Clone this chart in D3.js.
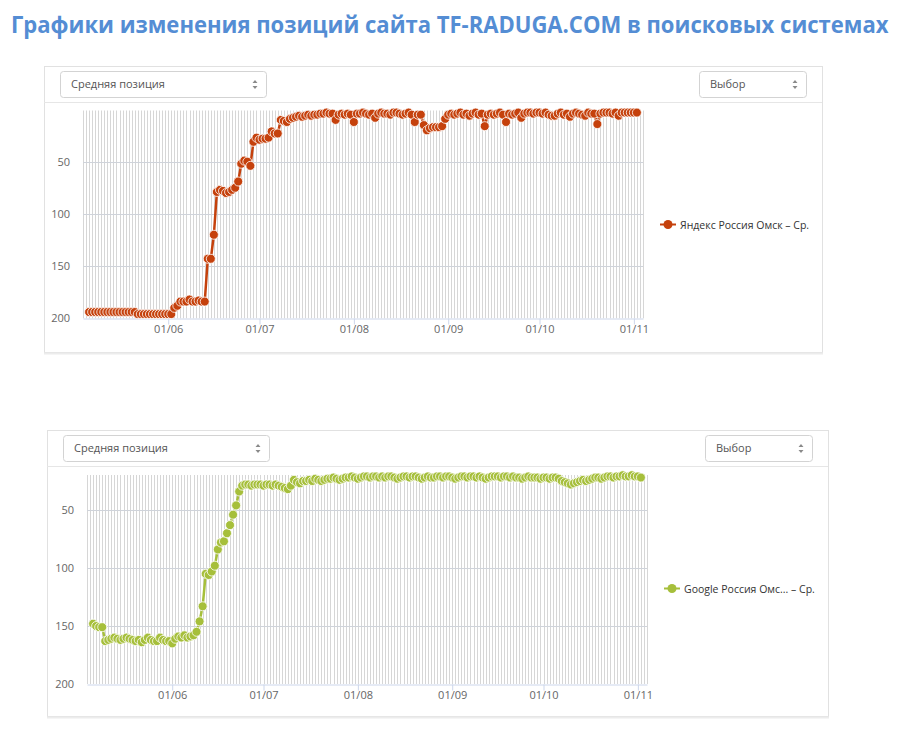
<!DOCTYPE html>
<html>
<head>
<meta charset="utf-8">
<script src="https://cdn.jsdelivr.net/npm/d3@7/dist/d3.min.js"></script>
<style>
  body { margin: 0; background: #fff; }
  svg { display: block; }
</style>
</head>
<body>
<svg id="chart" width="903" height="732"></svg>
<script>
const titleText = 'Графики изменения позиций сайта TF-RADUGA.COM в поисковых системах';

// first day of both series, one value per day after it
const startDate = new Date(2017, 4, 6);
const axisStart = new Date(2017, 4, 4);
const axisEnd = new Date(2017, 10, 4);

const monthTicks = [
  new Date(2017, 5, 1),
  new Date(2017, 6, 1),
  new Date(2017, 7, 1),
  new Date(2017, 8, 1),
  new Date(2017, 9, 1),
  new Date(2017, 10, 1),
];
const yTicks = [50, 100, 150, 200];

const yandexName = 'Яндекс Россия Омск – Ср.';
const yandexPositions = [
  194, 194, 194, 194, 194, 194, 194, 194, 194, 194, 194, 194, 194, 194, 194, 194,
  196, 196, 196, 196, 196, 196, 196, 196, 196, 196, 196, 196,
  190, 188, 184, 184, 184, 182, 184, 184, 183, 184, 184,
  143, 143, 120, 79, 77, 78, 80, 79, 77, 75, 69,
  52, 49, 50, 54, 31, 27, 29, 28, 28, 27, 21, 23, 23,
  10, 11, 12, 9, 8, 7, 6, 7, 6, 5, 6, 5, 5, 4, 4, 3, 4, 4,
  10, 5, 4, 5, 4, 5, 12, 4, 4, 3, 4, 5, 4, 8, 4, 3, 4, 4, 5,
  3, 3, 4, 5, 4, 3, 5, 12, 5, 5, 15, 20, 18, 17, 17, 17, 16, 9,
  5, 4, 5, 4, 3, 5, 4, 6, 4, 3, 5, 4, 16, 5, 4, 5, 4, 3, 5, 12,
  4, 5, 4, 3, 8, 4, 3, 3, 4, 3, 3, 4, 3, 5, 6, 6, 4, 3, 5, 4, 7,
  4, 3, 4, 5, 6, 3, 4, 4, 14, 4, 3, 3, 3, 4, 3, 6, 3, 3, 3, 3, 3, 3,
];

const googleName = 'Google Россия Омс... – Ср.';
const googlePositions = [
  148, 150, 151, 151, 163, 162, 161, 160, 161, 162, 161, 160, 161, 162, 163,
  162, 164, 162, 160, 162, 163, 163, 160, 162, 163, 163, 165,
  161, 159, 160, 158, 160, 159, 158, 155, 146, 133, 105, 106, 103, 98,
  84, 78, 77, 70, 63, 54, 46, 34, 29,
  28, 28, 29, 28, 28, 28, 29, 28, 28, 29, 28, 29, 30, 31, 32, 29,
  24, 26, 27, 25, 25, 24, 25, 23, 24, 25, 24, 23, 23, 22, 23, 24, 23, 22, 22,
  21, 22, 23, 22, 21, 21, 22, 21, 21, 22, 21, 22, 21, 21, 22, 23, 22, 21, 21,
  22, 21, 21, 22, 23, 22, 21, 22, 22, 21, 21, 22, 21, 21, 22, 23, 22, 21, 21,
  22, 21, 21, 22, 21, 22, 23, 22, 21, 21, 21, 22, 21, 21, 22, 21, 22, 22, 23,
  22, 21, 22, 22, 22, 23, 22, 22, 23, 22, 22, 23, 25, 26, 27, 28, 27, 26, 25,
  24, 25, 24, 23, 22, 22, 23, 22, 21, 21, 22, 21, 21, 20, 21, 21, 20, 21, 21, 22,
];

const panels = [
  {
    box: { x: 44, y: 66, w: 778, h: 286 },
    plot: { left: 83, right: 643, top: 110.5, bottom: 318.3 },
    yMin: 1,
    color: '#c5410c',
    name: yandexName,
    values: yandexPositions,
  },
  {
    box: { x: 47, y: 430, w: 781, h: 286 },
    plot: { left: 87, right: 647, top: 475, bottom: 684 },
    yMin: 19.8,
    color: '#a6bf3b',
    name: googleName,
    values: googlePositions,
  },
];

const svg = d3.select('#chart');
const font = '"Open Sans", "Noto Sans", sans-serif';

// title squeezed horizontally, like the narrow original font
const title = svg
  .append('text')
  .attr('font-family', font)
  .attr('font-weight', 700)
  .attr('font-size', 24)
  .attr('fill', '#548dd4')
  .text(titleText);
const titleLen = title.node().getComputedTextLength();
title.attr('transform', `translate(11,33) scale(${878 / titleLen},1)`);

const selectBox = (g, x, y, w, label) => {
  g.append('rect')
    .attr('x', x + 0.5)
    .attr('y', y + 0.5)
    .attr('width', w)
    .attr('height', 26)
    .attr('rx', 3)
    .attr('fill', '#fff')
    .attr('stroke', '#d3d3d3');
  g.append('text')
    .attr('x', x + 11)
    .attr('y', y + 17)
    .attr('font-family', font)
    .attr('font-size', 11)
    .attr('fill', '#555')
    .text(label);
  const ax = x + w - 11;
  const ay = y + 13.5;
  g.append('path')
    .attr('d', `M${ax - 2.5},${ay - 1.5}L${ax},${ay - 4.5}L${ax + 2.5},${ay - 1.5}Z M${ax - 2.5},${ay + 1.5}L${ax},${ay + 4.5}L${ax + 2.5},${ay + 1.5}Z`)
    .attr('fill', '#8a8a8a');
};

panels.forEach((p) => {
  const g = svg.append('g');
  const { box, plot } = p;

  // panel frame
  g.append('rect')
    .attr('x', box.x + 0.5)
    .attr('y', box.y + 0.5)
    .attr('width', box.w)
    .attr('height', box.h)
    .attr('fill', '#fff')
    .attr('stroke', '#e1e1e1');
  g.append('line')
    .attr('x1', box.x)
    .attr('x2', box.x + box.w + 1)
    .attr('y1', box.y + box.h + 1.5)
    .attr('y2', box.y + box.h + 1.5)
    .attr('stroke', '#ececec')
    .attr('stroke-width', 2);
  g.append('line')
    .attr('x1', box.x)
    .attr('x2', box.x + box.w)
    .attr('y1', box.y + 36.5)
    .attr('y2', box.y + 36.5)
    .attr('stroke', '#e6e6e6');

  selectBox(g, box.x + 16, box.y + 5, 206, 'Средняя позиция');
  selectBox(g, box.x + box.w - 123, box.y + 5, 107, 'Выбор');

  const x = d3.scaleTime().domain([axisStart, axisEnd]).range([plot.left, plot.right]);
  const y = d3.scaleLinear().domain([p.yMin, 200]).range([plot.top, plot.bottom]);

  // daily vertical grid
  g.append('g')
    .selectAll('line')
    .data(d3.timeDay.range(axisStart, d3.timeDay.offset(axisEnd, 1)))
    .join('line')
    .attr('x1', (d) => Math.round(x(d)) + 0.5)
    .attr('x2', (d) => Math.round(x(d)) + 0.5)
    .attr('y1', plot.top)
    .attr('y2', plot.bottom)
    .attr('stroke', '#d6d6d6');

  // horizontal grid
  g.append('g')
    .selectAll('line')
    .data(yTicks.slice(0, -1))
    .join('line')
    .attr('x1', plot.left)
    .attr('x2', plot.right)
    .attr('y1', (d) => Math.round(y(d)) + 0.5)
    .attr('y2', (d) => Math.round(y(d)) + 0.5)
    .attr('stroke', '#cfd3da');

  const xAxis = g
    .append('g')
    .attr('transform', `translate(0,${Math.round(plot.bottom) + 0.5})`)
    .call(
      d3.axisBottom(x)
        .tickValues(monthTicks)
        .tickFormat(d3.timeFormat('%d/%m'))
        .tickSize(6)
        .tickPadding(1)
        .tickSizeOuter(0)
    );
  xAxis.select('.domain').attr('stroke', '#ccd6eb');
  xAxis.selectAll('.tick line').attr('stroke', '#ccd6eb');
  xAxis.selectAll('text')
    .attr('font-family', font)
    .attr('font-size', 11)
    .attr('fill', '#666');

  const yAxis = g
    .append('g')
    .attr('transform', `translate(${plot.left},0)`)
    .call(d3.axisLeft(y).tickValues(yTicks).tickSize(0).tickPadding(13));
  yAxis.select('.domain').remove();
  yAxis.selectAll('text')
    .attr('font-family', font)
    .attr('font-size', 11)
    .attr('fill', '#666');

  const points = p.values.map((v, i) => ({ date: d3.timeDay.offset(startDate, i), value: v }));

  const lineGen = d3.line()
    .x((d) => x(d.date))
    .y((d) => y(d.value));

  g.append('path')
    .datum(points)
    .attr('d', lineGen)
    .attr('fill', 'none')
    .attr('stroke', p.color)
    .attr('stroke-width', 2.5)
    .attr('stroke-linejoin', 'round');

  g.append('g')
    .selectAll('circle')
    .data(points)
    .join('circle')
    .attr('cx', (d) => x(d.date))
    .attr('cy', (d) => y(d.value))
    .attr('r', 4.5)
    .attr('fill', p.color)
    .attr('stroke', '#fff')
    .attr('stroke-width', 0.8);

  // legend
  const ly = box.y + 36 + (box.h - 36) / 2 - 2.5;
  const lx = plot.right + 17;
  g.append('line')
    .attr('x1', lx)
    .attr('x2', lx + 16)
    .attr('y1', ly)
    .attr('y2', ly)
    .attr('stroke', p.color)
    .attr('stroke-width', 2);
  g.append('circle')
    .attr('cx', lx + 8)
    .attr('cy', ly)
    .attr('r', 4.5)
    .attr('fill', p.color);
  g.append('text')
    .attr('x', lx + 20)
    .attr('y', ly + 4)
    .attr('font-family', font)
    .attr('font-size', 10.5)
    .attr('fill', '#333')
    .text(p.name);
});
</script>
</body>
</html>
